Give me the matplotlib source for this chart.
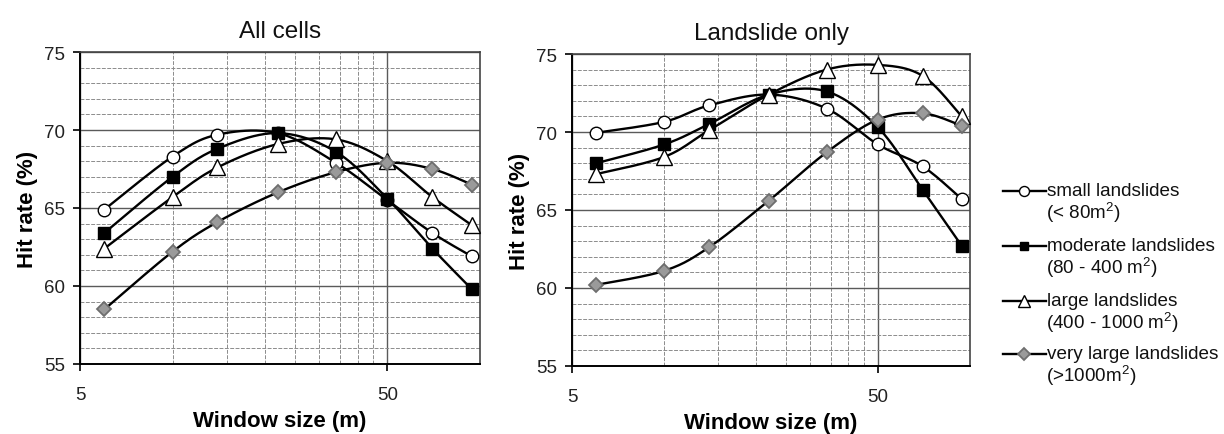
import numpy as np
import matplotlib
matplotlib.use("Agg")
import matplotlib.pyplot as plt
from matplotlib.lines import Line2D
from matplotlib.ticker import FixedLocator, NullFormatter, FixedFormatter

plt.rcParams['font.family'] = ['Liberation Sans', 'DejaVu Sans']

window = [6, 10, 14, 22, 34, 50, 70, 94]

all_small = [64.9, 68.3, 69.7, 69.8, 67.9, 65.5, 63.4, 61.9]
all_moderate = [63.4, 67.0, 68.8, 69.8, 68.6, 65.6, 62.4, 59.8]
all_large = [62.4, 65.7, 67.6, 69.1, 69.4, 68.0, 65.7, 63.9]
all_vlarge = [58.5, 62.2, 64.1, 66.0, 67.3, 67.9, 67.5, 66.5]

ls_small = [69.95, 70.65, 71.7, 72.4, 71.5, 69.2, 67.8, 65.7]
ls_moderate = [68.0, 69.2, 70.5, 72.4, 72.6, 70.3, 66.3, 62.7]
ls_large = [67.3, 68.4, 70.1, 72.4, 74.0, 74.3, 73.6, 71.0]
ls_vlarge = [60.2, 61.1, 62.6, 65.6, 68.7, 70.8, 71.2, 70.4]

titles = ["All cells", "Landslide only"]
legend_labels = [
    ("small landslides", r"(< 80m$^{\mathregular{2}}$)"),
    ("moderate landslides", r"(80 - 400 m$^{\mathregular{2}}$)"),
    ("large landslides", r"(400 - 1000 m$^{\mathregular{2}}$)"),
    ("very large landslides", r"(>1000m$^{\mathregular{2}}$)"),
]

styles = [
    dict(marker='o', mfc='white', mec='black', ms=9, mew=1.0),
    dict(marker='s', mfc='black', mec='black', ms=8, mew=1.0),
    dict(marker='^', mfc='white', mec='black', ms=11, mew=1.0),
    dict(marker='D', mfc='#9a9a9a', mec='#6e6e6e', ms=7.5, mew=1.3),
]


def smooth(xs, ys, n=24):
    u = np.log10(np.asarray(xs, float))
    v = np.asarray(ys, float)
    P = np.column_stack([u, v])
    Pe = np.vstack([P[0], P, P[-1]])
    out = []
    t = np.linspace(0, 1, n)
    for i in range(len(P) - 1):
        p0, p1, p2, p3 = Pe[i], Pe[i + 1], Pe[i + 2], Pe[i + 3]
        b0 = p1
        b1 = p1 + (p2 - p0) / 6.0
        b2 = p2 - (p3 - p1) / 6.0
        b3 = p2
        seg = (((1 - t) ** 3)[:, None] * b0 + (3 * (1 - t) ** 2 * t)[:, None] * b1
               + (3 * (1 - t) * t ** 2)[:, None] * b2 + (t ** 3)[:, None] * b3)
        out.append(seg if i == 0 else seg[1:])
    S = np.vstack(out)
    return 10 ** S[:, 0], S[:, 1]


fig = plt.figure(figsize=(12.24, 4.35), dpi=100)
ax1 = fig.add_axes([80 / 1224, 1 - 365 / 435, 400 / 1224, 312 / 435])
ax2 = fig.add_axes([572 / 1224, 1 - 367 / 435, 398 / 1224, 312 / 435])

panels = [(ax1, [all_small, all_moderate, all_large, all_vlarge]),
          (ax2, [ls_small, ls_moderate, ls_large, ls_vlarge])]

for (ax, series), title in zip(panels, titles):
    ax.set_xscale('log')
    ax.set_xlim(5, 100)
    ax.set_ylim(55, 75)
    ax.xaxis.set_major_locator(FixedLocator([5, 50]))
    ax.xaxis.set_major_formatter(FixedFormatter(['5', '50']))
    ax.xaxis.set_minor_locator(FixedLocator([10, 15, 20, 25, 30, 35, 40, 45]))
    ax.xaxis.set_minor_formatter(NullFormatter())
    ax.yaxis.set_major_locator(FixedLocator([55, 60, 65, 70, 75]))
    ax.yaxis.set_minor_locator(FixedLocator([v for v in range(56, 75) if v % 5]))
    ax.grid(True, which='minor', color='#8c8c8c', lw=0.7, ls=(0, (4, 1.5)))
    ax.grid(True, which='major', color='#5a5a5a', lw=1.0)
    ax.tick_params(axis='both', which='major', direction='out', length=5,
                   width=1.2, labelsize=13.5, colors='black', labelcolor='#222222')
    ax.tick_params(axis='x', which='major', pad=11)
    ax.tick_params(axis='y', which='major', pad=6)
    ax.tick_params(which='minor', length=0)
    for side in ['left', 'bottom']:
        ax.spines[side].set_color('black')
        ax.spines[side].set_linewidth(1.4)
    for side in ['top', 'right']:
        ax.spines[side].set_color('#444444')
        ax.spines[side].set_linewidth(1.2)
    ax.set_axisbelow(True)
    for ys, st in zip(series, styles):
        sx, sy = smooth(window, ys)
        ax.plot(sx, sy, color='black', lw=1.7, zorder=3)
        ax.plot(window, ys, ls='none', zorder=4, clip_on=False, **st)
    ax.set_title(title, fontsize=17.5, pad=11, color='#111111')
    ax.set_xlabel('Window size (m)', fontsize=16, fontweight='bold', labelpad=5)
    ax.set_ylabel('Hit rate (%)', fontsize=16, fontweight='bold', labelpad=4)

# legend drawn at the right
rows_y = [192, 247, 302, 355]
for (l1, l2), st, yy in zip(legend_labels, styles, rows_y):
    yf = 1 - yy / 435
    fig.add_artist(Line2D([1003 / 1224, 1046 / 1224], [yf, yf], color='black',
                          lw=1.7, transform=fig.transFigure))
    fig.add_artist(Line2D([1024 / 1224], [yf], ls='none', transform=fig.transFigure,
                          **{**st, 'ms': st['ms'] * 0.8}))
    fig.text(1047 / 1224, yf, l1, fontsize=13.6, va='center', ha='left', color='#111111')
    fig.text(1046 / 1224, 1 - (yy + 21) / 435, l2, fontsize=13.6, va='center',
             ha='left', color='#111111')

fig.savefig('out.png', dpi=100)
